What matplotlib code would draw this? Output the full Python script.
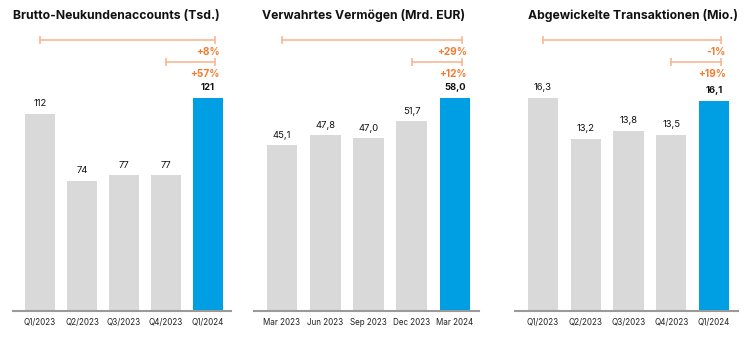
import numpy as np
import matplotlib
matplotlib.use('Agg')
import matplotlib.pyplot as plt
import matplotlib.transforms as mtransforms

plt.rcParams['font.family'] = ['Inter', 'DejaVu Sans']

titles = ['Brutto-Neukundenaccounts (Tsd.)',
          'Verwahrtes Vermögen (Mrd. EUR)',
          'Abgewickelte Transaktionen (Mio.)']
labels_q = ['Q1/2023', 'Q2/2023', 'Q3/2023', 'Q4/2023', 'Q1/2024']
labels_m = ['Mar 2023', 'Jun 2023', 'Sep 2023', 'Dec 2023', 'Mar 2024']
accounts = [112, 74, 77, 77, 121]
assets = [45.1, 47.8, 47.0, 51.7, 58.0]
trades = [16.3, 13.2, 13.8, 13.5, 16.1]
yoy = ['+8%', '+29%', '-1%']
qoq = ['+57%', '+12%', '+19%']

grey = '#d9d9d9'
blue = '#009fe3'
orange = '#f07d32'
orange_lt = '#f8b892'

W, H = 747, 347
fig = plt.figure(figsize=(W / 100, H / 100), dpi=100)

# pixel layout: (center of first bar, bar spacing, title x)
panels = [(40, 42, 13), (282, 43.25, 262), (543, 42.75, 528)]
base_px, top_px, maxbar_px = 311, 30, 213
xl = (-0.65, 4.55)

def fy(py):
    return 1 - py / H

datasets = [(accounts, labels_q, '{:.0f}'), (assets, labels_m, '{:.1f}'), (trades, labels_q, '{:.1f}')]

for i, (vals, labs, fmt) in enumerate(datasets):
    c0, sp, tx = panels[i]
    left = c0 + xl[0] * sp
    width = (xl[1] - xl[0]) * sp
    ax = fig.add_axes([left / W, fy(base_px), width / W, (base_px - top_px) / H])
    x = np.arange(len(vals))
    colors = [grey] * 4 + [blue]
    ax.bar(x, vals, width=0.71, color=colors, zorder=2)
    ymax = max(vals) * (base_px - top_px) / maxbar_px
    ax.set_xlim(*xl)
    ax.set_ylim(0, ymax)
    for s in ['top', 'right', 'left']:
        ax.spines[s].set_visible(False)
    ax.spines['bottom'].set_color('#9a9a9a')
    ax.spines['bottom'].set_linewidth(1.5)
    ax.set_yticks([])
    ax.set_xticks(x)
    ax.set_xticklabels(labs, fontsize=5.8, color='#222222')
    ax.tick_params(axis='x', length=0, pad=5)
    for j, v in enumerate(vals):
        txt = fmt.format(v).replace('.', ',')
        ax.annotate(txt, (j, v), xytext=(0, 4), textcoords='offset points',
                    ha='center', va='bottom', fontsize=6.8,
                    fontweight='bold' if j == 4 else 'normal', color='#111111')

    tr = mtransforms.blended_transform_factory(ax.transData, ax.transAxes)
    def af(py):
        return (base_px - py) / (base_px - top_px)
    xr = 4.17
    ax.plot([0, xr], [af(40), af(40)], color=orange_lt, lw=1.2, transform=tr, clip_on=False)
    ax.plot([0, xr], [af(40), af(40)], ls='none', marker='|', ms=6, mew=1.2,
            color=orange_lt, transform=tr, clip_on=False)
    ax.plot([3, xr], [af(62), af(62)], color=orange_lt, lw=1.2, transform=tr, clip_on=False)
    ax.plot([3, xr], [af(62), af(62)], ls='none', marker='|', ms=6, mew=1.2,
            color=orange_lt, transform=tr, clip_on=False)
    ax.text(4.28, af(52), yoy[i], transform=tr, ha='right', va='center',
            fontsize=7.3, fontweight='bold', color=orange)
    ax.text(4.28, af(74), qoq[i], transform=tr, ha='right', va='center',
            fontsize=7.3, fontweight='bold', color=orange)

    fig.text(tx / W, fy(16), titles[i], ha='left', va='center',
             fontsize=8.8, fontweight='bold', color='#111111')

fig.savefig('out.png', dpi=100)
